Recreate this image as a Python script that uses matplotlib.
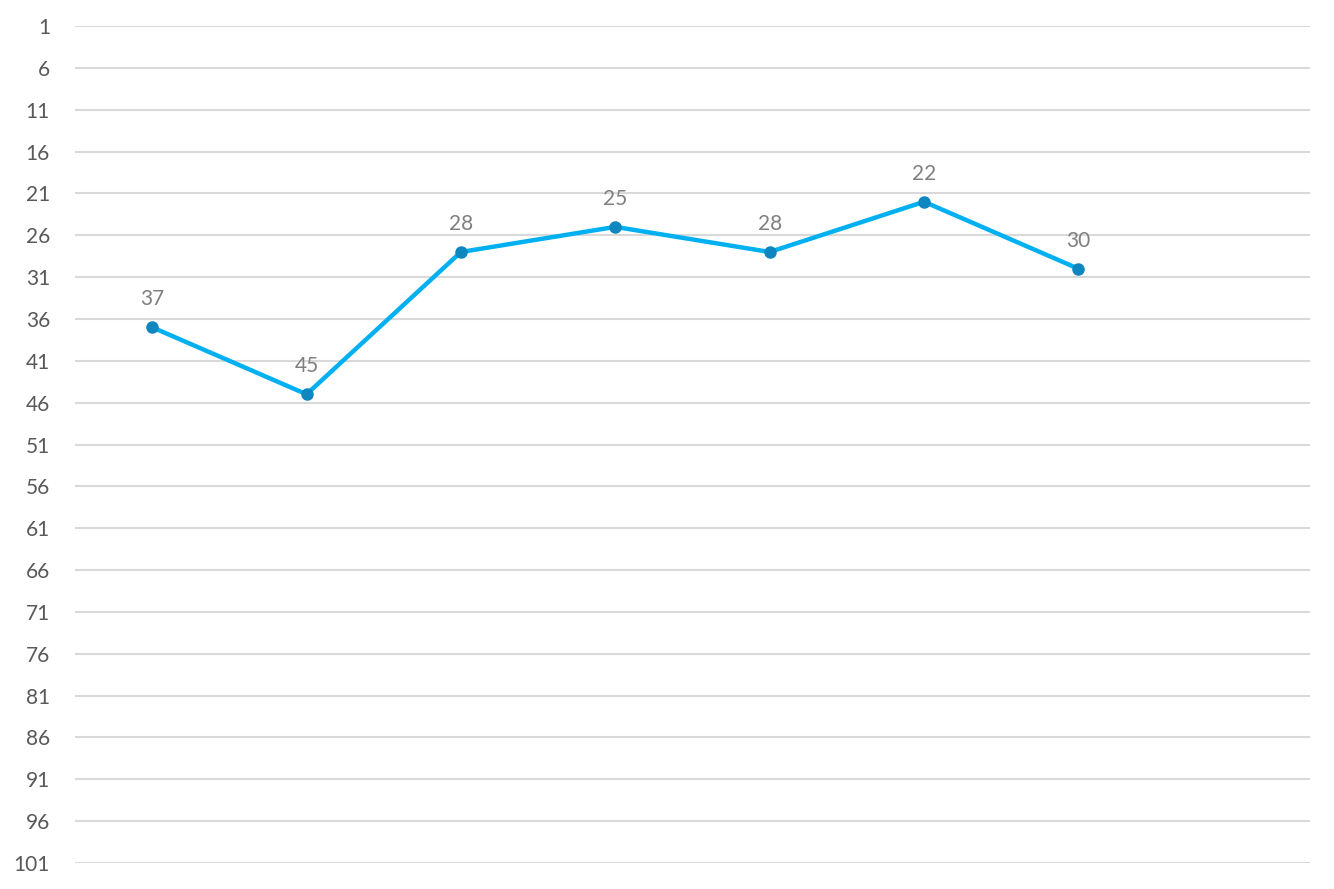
import numpy as np
import matplotlib.pyplot as plt

plt.rcParams['font.family'] = ['Lato', 'DejaVu Sans']

categories = ["1", "2", "3", "4", "5", "6", "7", "8"]
ranks = [37, 45, 28, 25, 28, 22, 30, np.nan]
labels = ["37", "45", "28", "25", "28", "22", "30", ""]
yticks = list(range(1, 102, 5))

fig = plt.figure(figsize=(13.34, 8.89), dpi=100)
ax = fig.add_axes([75 / 1334, 1 - 863 / 889, (1310 - 75) / 1334, (863 - 26) / 889])

x = np.arange(len(categories))
ax.plot(x, ranks, color='#00b0f0', lw=3.2, zorder=3, solid_capstyle='round')
ax.plot(x, ranks, 'o', color='#0e86bf', ms=8, zorder=4)

for xi, yi, lab in zip(x, ranks, labels):
    if lab:
        ax.annotate(lab, (xi, yi), xytext=(0, 13), textcoords='offset points',
                    ha='center', va='bottom', fontsize=15, color='#7f7f7f')

ax.set_xlim(-0.5, len(categories) - 0.5)
ax.set_ylim(101, 1)
ax.set_yticks(yticks)
ax.set_xticks([])
ax.grid(axis='y', color='#d9d9d9', lw=1.5)
ax.set_axisbelow(True)
for s in ax.spines.values():
    s.set_visible(False)
ax.tick_params(axis='y', length=0, pad=18, labelsize=15, labelcolor='#595959')

fig.savefig('out.png', dpi=100)
